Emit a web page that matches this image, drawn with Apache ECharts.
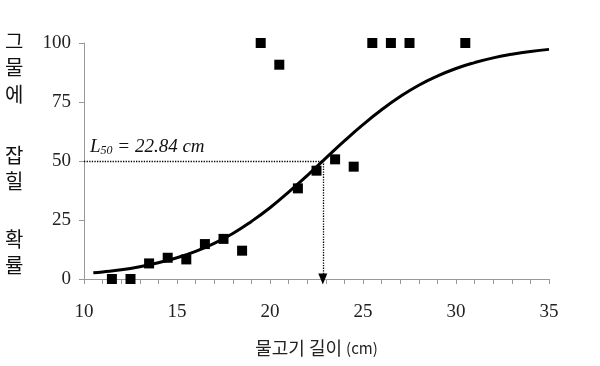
<!DOCTYPE html>
<html><head><meta charset="utf-8">
<script src="https://cdn.jsdelivr.net/npm/echarts@6/dist/echarts.min.js"></script>
<style>html,body{margin:0;padding:0;background:#fff}#c{width:600px;height:366px}</style>
</head><body><div id="c"></div>
<script>
// observed catch proportions
const obsLength = [11.5,12.5,13.5,14.5,15.5,16.5,17.5,18.5,19.5,20.5,21.5,22.5,23.5,24.5,25.5,26.5,27.5,30.5];
const obsProb   = [0,0,6.6,9.0,8.3,14.8,17.0,12.0,100,90.8,38.4,45.9,50.7,47.6,100,100,100,100];
// fitted selectivity curve
const curveLength = [10.5,11,12,13,14,15,16,17,18,19,20,21,22,23,24,25,26,27,28,29,30,31,32,33,34,35];
const curveProb   = [2.6,3.0,3.9,5.2,6.9,9.0,11.7,15.1,19.3,24.4,30.2,36.8,43.8,51.2,58.5,65.4,71.7,77.3,82.1,86.0,89.2,91.7,93.7,95.2,96.4,97.3];
const L50 = 22.84;
const xTicks = [10,15,20,25,30,35];
const yTicks = [0,25,50,75,100];
const yTitleParts = [['그',43],['물',69],['에',96],['잡',157],['힐',183],['확',241],['률',267]];

const chart = echarts.init(document.getElementById('c'));
const serif = '"Liberation Serif","DejaVu Serif",serif';
const sans = '"Noto Sans CJK KR","Noto Sans",sans-serif';
chart.setOption({
  animation:false,
  backgroundColor:'#fff',
  grid:{left:84,right:51,top:43,bottom:87},
  xAxis:{type:'value',min:10,max:35,interval:5,
    axisLine:{lineStyle:{color:'#999',width:1}},
    axisTick:{show:true,length:5,lineStyle:{color:'#999'}},
    minorTick:{show:true,splitNumber:5,length:5,lineStyle:{color:'#999'}},
    splitLine:{show:false},
    axisLabel:{color:'#222',fontFamily:serif,fontSize:19,margin:24,
      formatter:v=>xTicks.includes(v)?String(v):''},
    name:'{a|물고기 길이 }{b|(cm)}',nameLocation:'middle',nameGap:60,
    nameTextStyle:{rich:{a:{fontFamily:sans,fontSize:18,color:'#222'},b:{fontFamily:sans,fontSize:15,color:'#222'}}}
  },
  yAxis:{type:'value',min:0,max:100,interval:25,
    axisLine:{show:true,lineStyle:{color:'#999',width:1}},
    axisTick:{show:true,length:5,lineStyle:{color:'#999'}},
    splitLine:{show:false},
    axisLabel:{color:'#222',fontFamily:serif,fontSize:19,margin:13,
      formatter:v=>yTicks.includes(v)?String(v):''}
  },
  graphic: yTitleParts.map(([t,y])=>({type:'text',left:5,top:y-12,
    style:{text:t,font:'20px '+sans,fill:'#111'}})),
  series:[
    {type:'line',data:curveLength.map((x,i)=>[x,curveProb[i]]),smooth:true,showSymbol:false,
     lineStyle:{color:'#000',width:3},z:2,
     markLine:{silent:true,symbol:['none','none'],
       lineStyle:{color:'#000',type:'dotted',width:1.3},
       label:{show:false},
       data:[
         [{coord:[10,50],label:{show:true,position:'insideStartTop',distance:[6,4],
            formatter:'{i|L}{s|50}{i| = 22.84 cm}',
            rich:{i:{fontFamily:serif,fontStyle:'italic',fontSize:19,color:'#111'},
                  s:{fontFamily:serif,fontStyle:'italic',fontSize:12,color:'#111',verticalAlign:'bottom',padding:[9,0,0,0]}}}},
          {coord:[L50,50]}],
         [{coord:[L50,50],symbol:'none'},{coord:[L50,0],symbol:'triangle',symbolSize:[9,11],symbolRotate:180}]
       ]}
    },
    {type:'scatter',data:obsLength.map((x,i)=>[x,obsProb[i]]),symbol:'rect',symbolSize:10,
     itemStyle:{color:'#000',opacity:1},z:3}
  ]
});
</script></body></html>
